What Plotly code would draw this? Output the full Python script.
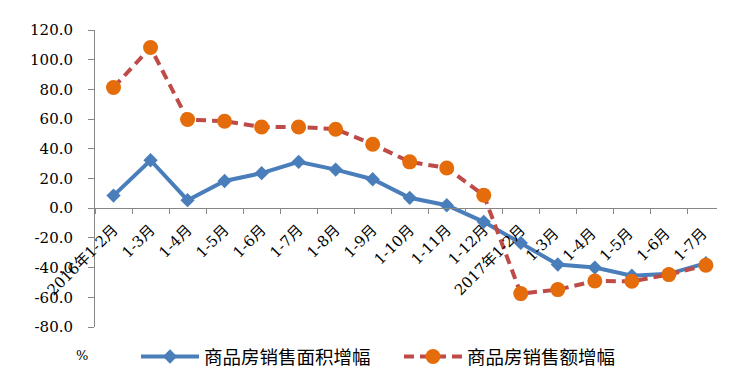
import plotly.graph_objects as go

categories = ["2016年1-2月", "1-3月", "1-4月", "1-5月", "1-6月", "1-7月", "1-8月", "1-9月",
              "1-10月", "1-11月", "1-12月", "2017年1-2月", "1-3月 ", "1-4月 ", "1-5月 ", "1-6月 ", "1-7月 "]
area_growth = [8.5, 32.3, 5.4, 18.3, 23.6, 31.2, 26.0, 19.5, 7.0, 2.0, -9.2, -23.4, -37.9, -40.0, -45.5, -44.2, -37.0]
sales_growth = [81.3, 108.2, 59.7, 58.6, 54.7, 54.7, 53.2, 43.1, 31.2, 27.1, 8.8, -57.5, -54.8, -49.0, -49.2, -44.7, -38.4]
name_area = "商品房销售面积增幅"
name_sales = "商品房销售额增幅"
y_ticks = [-80, -60, -40, -20, 0, 20, 40, 60, 80, 100, 120]
y_tick_labels = [f"{v:.1f}" for v in y_ticks]

# page body has an 8px margin; compensate so the chart lands at the same pixels
OFF = 8
W, H = 746 - OFF, 391 - OFF
L, R, T, B = 95 - OFF, 29, 30 - OFF, 64
PW, PH = W - L - R, H - T - B

fig = go.Figure()
fig.add_trace(go.Scatter(
    x=categories, y=area_growth, name=name_area, mode="lines+markers",
    line=dict(color="#4A7EBB", width=4),
    marker=dict(symbol="diamond", size=11, color="#4A7EBB"),
))
fig.add_trace(go.Scatter(
    x=categories, y=sales_growth, name=name_sales, mode="lines+markers",
    line=dict(color="#BE4B48", width=4, dash="10px,6px"),
    marker=dict(symbol="circle", size=15, color="#E46C0A"),
))

tick_font = dict(family="DejaVu Serif, Noto Sans CJK SC", size=15, color="#000000")

fig.update_layout(
    width=W, height=H,
    margin=dict(l=L, r=R, t=T, b=B, pad=0, autoexpand=False),
    paper_bgcolor="white", plot_bgcolor="white",
    showlegend=True,
    legend=dict(orientation="h", x=(136 - 95) / PW, xanchor="left",
                y=-(357 - 327) / PH, yanchor="middle",
                font=dict(family="Noto Sans CJK SC", size=18.5, color="#000000"),
                itemwidth=58, entrywidth=190, entrywidthmode="pixels",
                bgcolor="rgba(0,0,0,0)"),
    xaxis=dict(
        type="category", range=[-0.5, 16.3],
        anchor="free", position=0.4,
        showline=True, linecolor="#868686", linewidth=1,
        ticks="outside", ticklen=5, tickcolor="#868686", tickson="boundaries",
        tickangle=-45, tickfont=tick_font, ticklabelstandoff=6,
        showgrid=False, zeroline=False,
    ),
    yaxis=dict(
        range=[-80, 120], tickvals=y_ticks, ticktext=y_tick_labels,
        showline=True, linecolor="#868686", linewidth=1,
        ticks="outside", ticklen=6, tickcolor="#868686",
        tickfont=tick_font, ticklabelstandoff=12,
        showgrid=False, zeroline=False,
    ),
    annotations=[dict(text="%", xref="paper", yref="paper",
                      x=(82 - 95) / PW, y=-(355 - 327) / PH,
                      xanchor="center", yanchor="middle", showarrow=False,
                      font=dict(family="DejaVu Serif", size=13, color="#000000"))],
)

fig.write_html("out.html", config={"displayModeBar": False})
